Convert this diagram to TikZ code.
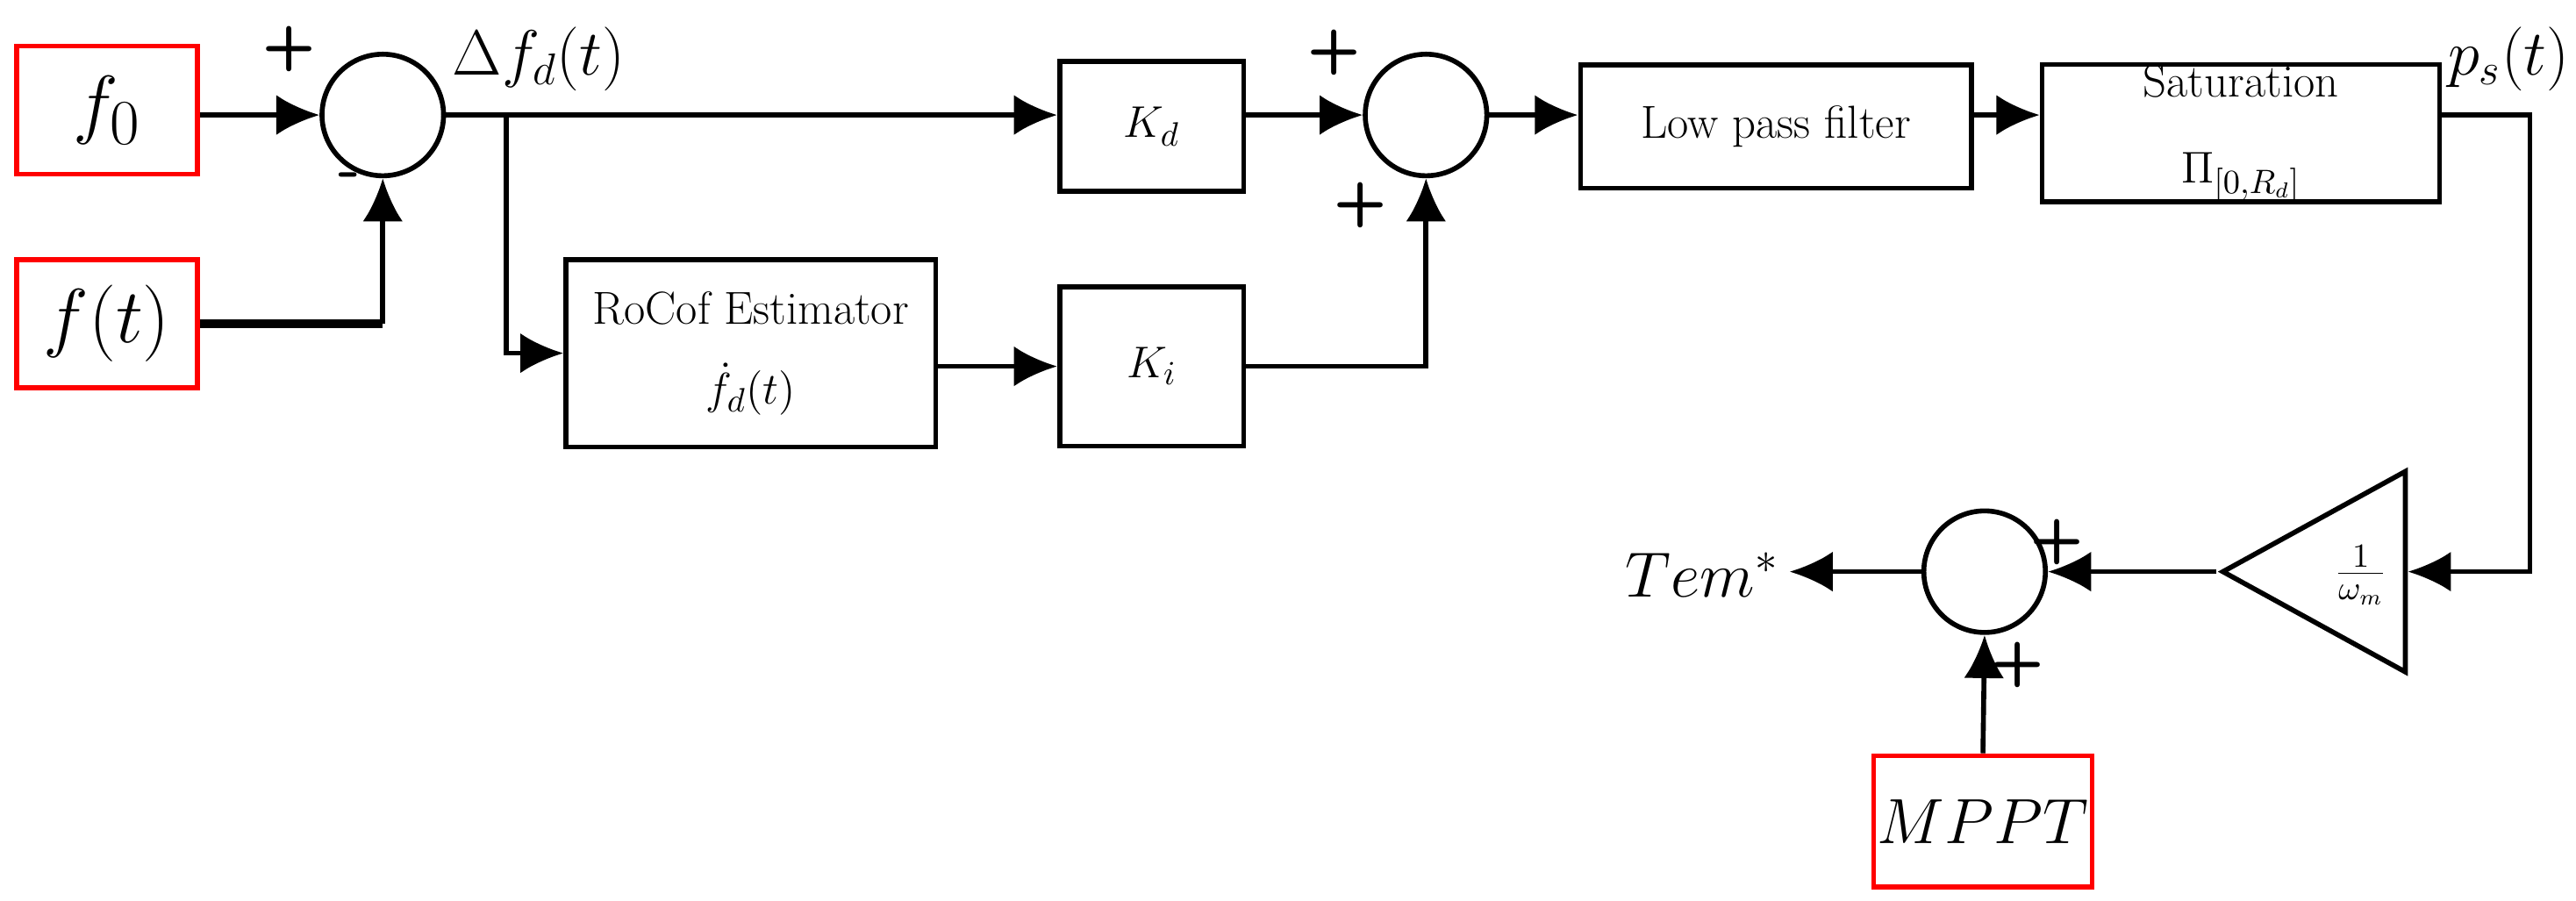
\documentclass[tikz,border=0pt]{standalone}
\usetikzlibrary{positioning, calc, shapes.geometric, arrows.meta}
\def\px{0.018725cm}
\tikzstyle{Block} = [draw, line width=1.6pt, align=center, inner sep=0pt, font=\fontsize{15}{18}\selectfont]
\tikzstyle{Src} = [draw=red, line width=1.6pt, inner sep=0pt, minimum width=110*\px, minimum height=78*\px, font=\fontsize{30}{32}\selectfont]
\tikzstyle{Sum} = [draw, circle, line width=1.6pt, inner sep=0pt, minimum size=74*\px]
\tikzstyle{Sig} = [font=\sffamily\bfseries\fontsize{20}{20}\selectfont]
\tikzstyle{Arrow} = [line width=1.6pt, -{Latex[length=14,width=13]}]

\begin{document}
\begin{tikzpicture}[x=0.018725cm, y=-0.018725cm]
    \useasboundingbox (0,0) rectangle (1568,548);

    \node [Src] (f0) at (65,67) {$f_0$};
    \node [Src] (ft) at (65,197) {$f(t)$};
    \node [Sum] (s1) at (233,70) {};
    \node [Block, minimum width=112*\px, minimum height=79*\px] (kd) at (701,77) {$K_d$};
    \node [Block, minimum width=225*\px, minimum height=114*\px] (roc) at (457,215) {RoCof Estimator\\[8pt]$\dot{f}_d(t)$};
    \node [Block, minimum width=112*\px, minimum height=97*\px] (ki) at (701,223) {$K_i$};
    \node [Sum] (s2) at (868,70) {};
    \node [Block, minimum width=238*\px, minimum height=75*\px] (lpf) at (1081,77) {Low pass filter};
    \node [Block, minimum width=242*\px, minimum height=82*\px] (sat) at (1364,81) {Saturation\\[10pt]$\Pi_{[0,R_d]}$};
    \node [draw, isosceles triangle, shape border rotate=180, isosceles triangle stretches,
        line width=1.6pt, minimum width=122*\px, minimum height=111*\px, inner sep=0pt] (gain) at (1428,348) {};
    \node [font=\fontsize{15}{18}\selectfont] (gtxt) at (1437,350) {$\frac{1}{\omega_m}$};
    \node [Sum] (s3) at (1208,348) {};
    \node [font=\fontsize{20}{22}\selectfont, left=2pt] (tem) at (1093,350) {$Tem^{*}$};
    \node [Src, minimum width=133*\px, minimum height=80*\px, font=\fontsize{20}{22}\selectfont] (mppt) at (1207,500) {$MPPT$};

    \node [font=\fontsize{20}{22}\selectfont] (df) at (328,36) {$\Delta f_d(t)$};
    \node [font=\fontsize{20}{22}\selectfont] (ps) at (1527,36) {$p_s(t)$};

    \coordinate (br) at (308,70);
    \coordinate (psr) at (1540,70);

    \draw[Arrow] (f0.east |- s1) -- (s1.west);
    \draw[line width=3pt] (ft.east) -- (ft.east -| s1);
    \draw[Arrow] (ft.east -| s1) -- (s1.south);
    \draw[Arrow] (s1.east) -- (kd.west |- s1);
    \draw[Arrow] (br) |- (roc.west);
    \draw[Arrow] (roc.east |- ki) -- (ki.west);
    \draw[Arrow] (kd.east |- s2) -- (s2.west);
    \draw[Arrow] (ki.east) -| (s2.south);
    \draw[Arrow] (s2.east) -- (lpf.west |- s2);
    \draw[Arrow] (lpf.east |- s2) -- (sat.west |- s2);
    \draw[Arrow] (sat.east |- psr) -- (psr) |- (gain.east);
    \draw[Arrow] (gain.apex) -- (s3.east);
    \draw[Arrow] (s3.west) -- (tem.east |- s3);
    \draw[Arrow] (mppt.north) -- (s3.south);

    \node [Sig] (p1) at (176,30) {+};
    \node [Sig] (m1) at (213,110) {-};
    \node [Sig] (p2) at (812,32) {+};
    \node [Sig] (p3) at (828,125) {+};
    \node [Sig] (p4) at (1252,330) {+};
    \node [Sig] (p5) at (1228,405) {+};
\end{tikzpicture}
\end{document}
